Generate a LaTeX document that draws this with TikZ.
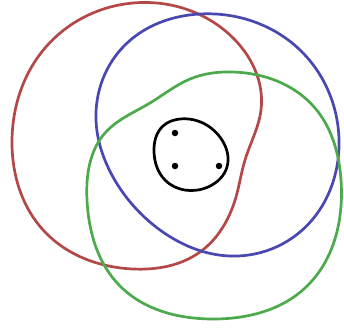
\documentclass[tikz,border=0pt]{standalone}
\usetikzlibrary{hobby}
\begin{document}
\begin{tikzpicture}[x=1pt,y=-1pt,
  curve/.style={line width=2.7pt,use Hobby shortcut,closed=true},
  dot/.style={circle,fill=black,inner sep=0pt,minimum size=6.5pt}]
\definecolor{myred}{RGB}{178,72,72}
\definecolor{myblue}{RGB}{72,72,176}
\definecolor{mygreen}{RGB}{76,170,76}
\useasboundingbox (0,0) rectangle (344,332);
\draw[curve,myred] (12,140) .. (45,48) .. (133,3) .. (230,35) .. (261,110) .. (245,160) .. (236,197) .. (200,252) .. (133,269) .. (45,232);
\draw[curve,myblue] (200,14) .. (300,50) .. (339,140) .. (300,232) .. (230,256) .. (160,230) .. (113,177) .. (96,120) .. (125,45);
\draw[curve,mygreen] (233,72) .. (315,108) .. (341,180) .. (305,288) .. (213,319) .. (120,286) .. (87,200) .. (105,133) .. (150,103) .. (190,79);
\draw[curve,black] (180,119) .. (222,140) .. (227,167) .. (208,187) .. (165,180) .. (154,152) .. (163,126);
\node[dot] (d1) at (175,133) {};
\node[dot] (d2) at (175,166) {};
\node[dot] (d3) at (219,166) {};
\end{tikzpicture}
\end{document}
